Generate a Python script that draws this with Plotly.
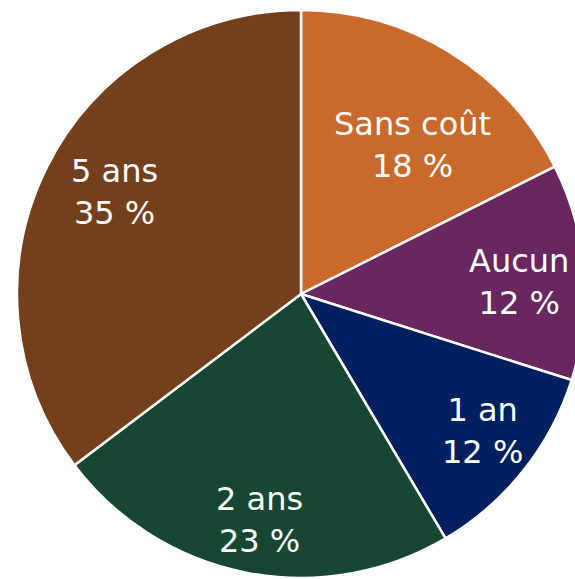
import math

import plotly.graph_objects as go

# Slices, clockwise from 12 o'clock
categories = ["Sans coût", "Aucun", "1 an", "2 ans", "5 ans"]
values = [17.6, 12.3, 11.6, 23.2, 35.3]
pct_labels = ["18 %", "12 %", "12 %", "23 %", "35 %"]
colors = ["#C96A2C", "#68275F", "#001F5F", "#174733", "#74401C"]

# Label placement: distance from centre (fraction of radius) and
# angular nudge (degrees) from the slice's middle angle
label_radius = [0.656, 0.770, 0.800, 0.810, 0.748]
label_nudge = [5.2, 1.4, -1.5, -0.7, 2.2]
label_font = dict(family="DejaVu Sans", size=32, color="white")

fig = go.Figure(
    go.Pie(
        labels=categories,
        values=values,
        textinfo="none",
        marker=dict(colors=colors, line=dict(color="white", width=2.5)),
        sort=False,
        direction="clockwise",
        rotation=0,
        hole=0,
        showlegend=False,
        hoverinfo="label+percent",
    )
)

total = sum(values)
cum = 0.0
for cat, val, pct, rf, nudge in zip(categories, values, pct_labels, label_radius, label_nudge):
    mid = 2 * math.pi * (cum + val / 2) / total + math.radians(nudge)
    cum += val
    fig.add_annotation(
        x=0.5 + 0.5 * rf * math.sin(mid),
        y=0.5 + 0.5 * rf * math.cos(mid),
        xref="paper",
        yref="paper",
        text=f"{cat}<br>{pct}",
        showarrow=False,
        font=label_font,
        xanchor="center",
        yanchor="middle",
        align="center",
    )

# Pie is larger than the window: the page crops its right and bottom
fig.update_layout(
    width=602,
    height=588,
    margin=dict(l=17, r=17, t=10, b=10),
    paper_bgcolor="white",
    plot_bgcolor="white",
)

fig.write_html(
    "out.html",
    config={"displayModeBar": False},
    post_script="document.body.style.margin='0';document.body.style.overflow='hidden';",
)
